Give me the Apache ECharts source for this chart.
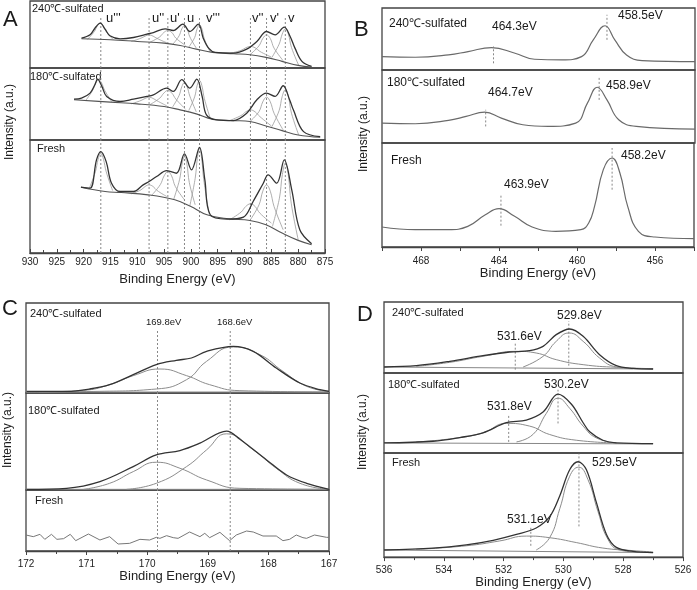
<!DOCTYPE html>
<html>
<head>
<meta charset="utf-8">
<script src="https://cdn.jsdelivr.net/npm/echarts@6/dist/echarts.min.js"></script>
<style>html,body{margin:0;padding:0;background:#fff}#chart{width:697px;height:590px}</style>
</head>
<body>
<div id="chart"></div>
<script>
// ---------- A: Ce 3d ----------
const ceLines = [916.8, 907.8, 904.3, 901.2, 898.4, 888.9, 885.9, 882.4];
const ceNames = ["u'''", "u''", "u'", "u", "v'''", "v''", "v'", "v"];

const ce240Env = [[920.4,90],[918.8,100],[917.9,120],[916.9,135],[916.0,117],[915.1,97],[913.2,88],[910.7,92],[908.2,102],[907.0,107],[904.8,118],[903.3,113],[901.5,132],[900.2,110],[898.6,132],[897.7,90],[896.7,60],[895.5,47],[892.1,45],[889.6,57],[887.7,80],[885.9,110],[884.3,100],[882.6,123],[881.5,95],[880.6,60],[879.3,20],[877.5,5]];
const ce240Base = [[920.4,88],[915,85],[910,80],[905,75],[902,68],[899,57],[896,47],[892,43],[889,40],[886,32],[883,20],[880,8],[877.5,3]];
const ce240Parts = [
  [[919.3,86],[918.0,110],[917.45,127],[916.9,135],[916.35,127],[915.8,110],[914.5,86]],
  [[911.1,80],[909.3,90],[908.55,96],[907.8,100],[907.05,96],[906.3,89],[904.5,76]],
  [[907.6,78],[905.8,94],[905.05,107],[904.3,113],[903.55,107],[902.8,90],[901.0,68]],
  [[903.4,71],[902.2,97],[901.7,118],[901.2,128],[900.7,118],[900.2,94],[899.0,60]],
  [[900.4,63],[899.3,92],[898.85,118],[898.4,130],[897.95,118],[897.5,88],[896.4,48]],
  [[892.8,44],[890.65,53],[889.78,61],[888.9,65],[888.03,61],[887.15,50],[885.0,33]],
  [[889.0,40],[887.3,67],[886.6,89],[885.9,100],[885.2,89],[884.5,60],[882.8,22]],
  [[884.9,32],[883.55,72],[882.98,102],[882.4,118],[881.83,102],[881.25,62],[879.9,8]]
];

const ce180Env = [[921.8,122],[920.4,125],[918.8,140],[917.9,165],[917.4,182],[916.6,160],[915.7,130],[913.2,115],[910.7,122],[908.2,130],[907.0,135],[904.5,155],[903.3,145],[901.7,180],[900.2,155],[898.9,182],[897.9,130],[897.1,75],[895.2,60],[892.1,58],[889.6,80],[887.7,120],[885.9,140],[884.3,130],[882.8,162],[881.6,120],[880.9,90],[879.0,25],[875.9,10]];
const ce180Base = [[921.8,120],[915,113],[910,108],[905,100],[902,90],[899,78],[896,62],[892,58],[889,55],[886,42],[883,28],[880,15],[875.9,8]];
const ce180Parts = [
  [[919.6,118],[918.3,149],[917.75,170],[917.2,180],[916.65,170],[916.1,149],[914.8,115]],
  [[911.1,108],[909.3,118],[908.55,124],[907.8,128],[907.05,124],[906.3,117],[904.5,102]],
  [[907.6,106],[905.8,125],[905.05,140],[904.3,148],[903.55,140],[902.8,122],[901.0,92]],
  [[903.4,99],[902.2,133],[901.7,159],[901.2,172],[900.7,159],[900.2,131],[899.0,84]],
  [[900.4,88],[899.3,129],[898.85,162],[898.4,178],[897.95,162],[897.5,124],[896.4,65]],
  [[892.8,58],[890.65,73],[889.78,84],[888.9,90],[888.03,84],[887.15,70],[885.0,42]],
  [[889.0,55],[887.3,85],[886.6,114],[885.9,128],[885.2,114],[884.5,80],[882.8,30]],
  [[884.9,40],[883.55,88],[882.98,130],[882.4,150],[881.83,130],[881.25,80],[879.9,15]]
];

const ceFreshEnv = [[920.5,198],[918.8,195],[917.6,280],[916.8,305],[915.8,275],[914.8,210],[913.2,185],[910.7,185],[908.9,205],[907.8,215],[906.4,230],[904.5,248],[902.7,240],[901.2,298],[899.9,250],[898.4,318],[897.4,220],[896.4,115],[893.3,102],[890.2,108],[888.4,155],[886.5,210],[885.6,235],[884.0,210],[882.6,280],[881.2,190],[879.7,70],[877.5,28]];
const ceFreshBase = [[920.5,198],[916,185],[913,182],[908,175],[903,160],[900,140],[897,115],[893,103],[889,98],[886,85],[883,60],[880,38],[877.5,25]];
const ceFreshParts = [
  [[919.0,192],[917.8,245],[917.3,282],[916.8,300],[916.3,282],[915.8,245],[914.6,188]],
  [[911.1,178],[909.3,190],[908.55,200],[907.8,205],[907.05,200],[906.3,188],[904.5,170]],
  [[907.4,172],[905.7,206],[905.0,232],[904.3,245],[903.6,232],[902.9,200],[901.2,160]],
  [[903.2,162],[902.1,222],[901.65,268],[901.2,290],[900.75,268],[900.3,212],[899.2,145]],
  [[900.2,142],[899.2,225],[898.8,285],[898.4,315],[898.0,285],[897.6,220],[896.6,118]],
  [[892.8,100],[890.65,123],[889.78,140],[888.9,148],[888.03,140],[887.15,120],[885.0,90]],
  [[889.0,98],[887.3,145],[886.6,186],[885.9,205],[885.2,186],[884.5,140],[882.8,70]],
  [[884.8,80],[883.5,165],[882.95,236],[882.4,270],[881.85,236],[881.3,150],[880.0,40]]
];

// ---------- B: Ti 2p ----------
const ti240 = [[470.0,40],[468.3,38],[466.6,45],[465.6,55],[464.4,67],[463.2,50],[462.2,32],[460.8,30],[459.8,40],[459.2,90],[458.6,132],[458.1,90],[457.5,45],[456.7,28],[454.0,25]];
const ti180 = [[470.0,60],[468.3,58],[466.6,68],[465.7,80],[464.75,93],[463.9,75],[462.8,55],[461.5,50],[460.1,60],[459.5,120],[459.0,168],[458.5,130],[457.9,70],[457.0,50],[454.0,42]];
const tiFresh = [[470.0,60],[468.3,52],[466.6,52],[465.6,62],[464.7,97],[464.0,115],[463.2,92],[462.3,60],[461.1,47],[459.8,52],[459.4,72],[459.1,122],[458.65,232],[458.2,267],[457.8,222],[457.4,122],[456.85,47],[456.0,30],[454.0,25]];
const tiMarks240 = [[464.3,20,70],[458.5,90,165]];
const tiMarks180 = [[464.7,50,100],[458.9,130,202]];
const tiMarksFresh = [[463.9,64,157],[458.2,172,297]];

// ---------- C: S 2p ----------
const s240Env = [[171.99,5],[171.33,5],[170.95,12],[170.62,25],[170.23,55],[169.85,85],[169.52,98],[169.27,105],[169.02,125],[168.58,140],[168.25,125],[167.87,75],[167.48,30],[167.15,10],[167.0,5]];
const s240P1 = [[171.78,3],[171.05,8],[170.62,25],[170.23,52],[169.79,72],[169.35,52],[168.97,25],[168.47,7],[167.0,3]];
const s240P2 = [[171.99,3],[170.78,5],[169.85,12],[169.35,40],[169.02,95],[168.58,138],[168.14,115],[167.76,65],[167.37,20],[167.0,5]];
const s180Env = [[171.99,2],[171.33,5],[170.78,25],[170.23,70],[169.85,105],[169.46,118],[169.13,140],[168.69,176],[168.47,152],[168.03,90],[167.70,45],[167.37,20],[167.0,2]];
const s180P1 = [[171.05,2],[170.62,20],[170.23,55],[169.85,83],[169.46,65],[169.02,30],[168.47,5],[167.0,2]];
const s180P2 = [[170.34,2],[169.85,20],[169.35,70],[169.02,120],[168.69,168],[168.25,120],[167.87,65],[167.48,20],[167.0,2]];
const sFresh = [[172.00,48],[171.88,43],[171.77,50],[171.69,35],[171.58,50],[171.49,35],[171.38,37],[171.27,50],[171.18,31],[170.97,51],[170.78,33],[170.62,43],[170.48,21],[170.29,23],[170.12,35],[169.96,33],[169.85,41],[169.79,38],[169.68,46],[169.57,40],[169.49,38],[169.30,57],[169.13,43],[169.05,53],[168.97,40],[168.80,56],[168.64,31],[168.53,48],[168.36,60],[168.25,57],[168.09,45],[167.87,45],[167.76,31],[167.65,35],[167.54,48],[167.43,40],[167.37,38],[167.24,48],[167.04,41],[167.00,41]];
const sPeaks = [169.83, 168.63];

// ---------- D: O 1s ----------
const o240Env = [[536.0,18],[534.92,22],[533.80,35],[532.69,52],[531.80,63],[531.13,67],[530.68,80],[530.24,115],[529.79,132],[529.34,110],[528.79,55],[528.23,22],[527.67,14],[527.0,12]];
const o240P1 = [[531.35,18],[530.68,50],[530.24,95],[529.81,120],[529.34,95],[528.79,45],[528.23,18],[527.67,13]];
const o240P2 = [[534.92,20],[533.80,32],[532.69,50],[531.57,65],[530.91,60],[530.24,40],[529.34,25],[528.23,17],[527.0,13]];
const o240Base = [[536.0,18],[527.0,12]];
const o180Env = [[536.0,30],[534.36,35],[533.47,46],[532.69,60],[531.91,90],[531.24,98],[530.68,122],[530.18,175],[529.73,145],[529.34,90],[529.12,63],[528.68,38],[528.23,30],[527.0,28]];
const o180P1 = [[531.57,33],[531.02,55],[530.57,118],[530.18,163],[529.79,133],[529.34,80],[528.90,45],[528.23,30]];
const o180P2 = [[534.92,33],[533.80,42],[532.69,60],[531.91,88],[531.13,80],[530.46,55],[529.57,38],[528.23,30]];
const o180Base = [[536.0,30],[527.0,27]];
const oFreshEnv = [[536.0,22],[534.36,28],[533.25,38],[532.35,52],[531.57,70],[530.91,90],[530.46,125],[530.12,190],[529.79,270],[529.51,295],[529.23,270],[528.90,170],[528.56,70],[528.23,30],[527.67,18],[527.0,14]];
const oFreshP1 = [[530.91,22],[530.46,60],[530.12,150],[529.79,250],[529.49,278],[529.18,240],[528.84,140],[528.51,55],[528.12,22],[527.45,15]];
const oFreshP2 = [[534.92,24],[533.25,35],[532.13,50],[531.24,65],[530.46,60],[529.57,45],[528.68,28],[527.67,20],[527.0,16]];
const oFreshBase = [[536.0,22],[527.0,14]];
const oMarks240 = [[531.61,10,90],[529.82,22,155]];
const oMarks180 = [[531.83,33,113],[530.18,88,188]];
const oMarksFresh = [[531.09,35,95],[529.48,95,320]];

const FONT = 'Liberation Sans, Arial, sans-serif';
const grids = [], xAxes = [], yAxes = [], series = [], texts = [];

// one framed strip; only the bottom one of a panel carries the energy axis
function strip(left, width, top, height, ymax, ax) {
  const i = grids.length;
  grids.push({ left, width, top, height, show: true, borderColor: '#444', borderWidth: 1.3, containLabel: false });
  const x = { type: 'value', gridIndex: i, inverse: true, min: ax.min, max: ax.max, interval: ax.interval, splitLine: { show: false } };
  if (ax.bottom) {
    Object.assign(x, {
      axisLine: { lineStyle: { color: '#444', width: 1.3 } },
      axisTick: { inside: ax.inside, length: 4, lineStyle: { color: '#444' } },
      minorTick: { show: ax.minor, splitNumber: 2, length: 3, lineStyle: { color: '#444' } },
      axisLabel: { fontSize: 10, color: '#222', margin: ax.margin, fontFamily: FONT, formatter: ax.fmt || '{value}', showMinLabel: true, showMaxLabel: true },
      name: 'Binding Energy (eV)', nameLocation: 'middle', nameGap: ax.gap,
      nameTextStyle: { fontSize: 13, color: '#222', fontFamily: FONT }
    });
  } else {
    x.show = false;
  }
  xAxes.push(x);
  yAxes.push({ type: 'value', gridIndex: i, min: 0, max: ymax, show: false });
  return i;
}

function curve(g, data, color, width, smooth) {
  series.push({ type: 'line', xAxisIndex: g, yAxisIndex: g, data, symbol: 'none', smooth: smooth == null ? 0.35 : smooth,
    lineStyle: { color, width }, silent: true, z: color === '#333' ? 4 : 3 });
}
function vmark(g, e, a, b) {
  series.push({ type: 'line', xAxisIndex: g, yAxisIndex: g, data: [[e, a], [e, b]], symbol: 'none',
    lineStyle: { color: '#888', width: 1, type: [2, 2] }, silent: true, z: 2 });
}
function txt(x, y, s, size) {
  texts.push({ type: 'text', x, y, silent: true, style: { text: s, fontSize: size, fontFamily: FONT, fill: '#1a1a1a', verticalAlign: 'middle' } });
}

// ---- panel A
const axA = { min: 875, max: 930, interval: 5, inside: true, minor: true, margin: 4, gap: 20 };
const a1 = strip(30, 295, 1, 67, 202, axA);
const a2 = strip(30, 295, 68, 72, 215, axA);
const a3 = strip(30, 295, 140, 113, 340, Object.assign({ bottom: true }, axA));
[[a1, ce240Env, ce240Base, ce240Parts, 152], [a2, ce180Env, ce180Base, ce180Parts, 215], [a3, ceFreshEnv, ceFreshBase, ceFreshParts, 340]]
  .forEach(([g, env, base, parts, top]) => {
    ceLines.forEach(e => vmark(g, e, 0, top));
    parts.forEach(p => curve(g, p, '#9a9a9a', 0.8, 0.4));
    curve(g, base, '#555', 1.1, 0.4);
    curve(g, env, '#333', 1.3);
  });
const ceLabelX = [106, 152, 170, 187, 206, 252, 270, 288];
ceNames.forEach((n, k) => txt(ceLabelX[k], 18, n, 13));

// ---- panel B
const axB = { min: 454, max: 470, interval: 2, inside: false, minor: false, margin: 9, gap: 20,
  fmt: v => (v % 4 === 0 ? String(v) : '') };
const b1 = strip(382, 313, 8, 62, 185, axB);
const b2 = strip(382, 313, 70, 73, 220, axB);
const b3 = strip(382, 313, 143, 104, 312, Object.assign({ bottom: true }, axB));
[[b1, ti240, tiMarks240], [b2, ti180, tiMarks180], [b3, tiFresh, tiMarksFresh]].forEach(([g, d, m]) => {
  m.forEach(([e, a, b]) => vmark(g, e, a, b));
  curve(g, d, '#6a6a6a', 1.2, 0.45);
});

// ---- panel C
const axC = { min: 167, max: 172, interval: 1, inside: false, minor: true, margin: 8, gap: 19 };
const c1 = strip(26, 303, 303, 90, 270, axC);
const c2 = strip(26, 303, 393, 97, 290, axC);
const c3 = strip(26, 303, 490, 61, 183, Object.assign({ bottom: true }, axC));
sPeaks.forEach(e => { vmark(c1, e, 0, 190); vmark(c2, e, 0, 290); vmark(c3, e, 0, 183); });
curve(c1, [[172, 3], [167, 3]], '#888', 1, 0);
curve(c1, s240P1, '#8c8c8c', 1, 0.5);
curve(c1, s240P2, '#8c8c8c', 1, 0.5);
curve(c1, s240Env, '#333', 1.3);
curve(c2, [[172, 2], [167, 2]], '#888', 1, 0);
curve(c2, s180P1, '#8c8c8c', 1, 0.5);
curve(c2, s180P2, '#8c8c8c', 1, 0.5);
curve(c2, s180Env, '#333', 1.3);
curve(c3, sFresh, '#777', 1, 0);

// ---- panel D
const axD = { min: 526, max: 536, interval: 2, inside: false, minor: true, margin: 8, gap: 16 };
const d1 = strip(384, 299, 302, 71, 213, axD);
const d2 = strip(384, 299, 373, 80, 238, axD);
const d3 = strip(384, 299, 453, 107, 322, Object.assign({ bottom: true }, axD));
[[d1, o240Env, o240P1, o240P2, o240Base, oMarks240], [d2, o180Env, o180P1, o180P2, o180Base, oMarks180],
 [d3, oFreshEnv, oFreshP1, oFreshP2, oFreshBase, oMarksFresh]].forEach(([g, env, p1, p2, base, m]) => {
  m.forEach(([e, a, b]) => vmark(g, e, a, b));
  curve(g, base, '#888', 1, 0);
  curve(g, p1, '#8c8c8c', 1, 0.5);
  curve(g, p2, '#8c8c8c', 1, 0.5);
  curve(g, env, '#333', 1.3);
});

// ---- texts
txt(3, 20, 'A', 22); txt(354, 30, 'B', 22); txt(2, 309, 'C', 22); txt(357, 315, 'D', 22);
txt(32, 9, '240℃-sulfated', 11); txt(30, 77, '180℃-sulfated', 11); txt(37, 149, 'Fresh', 11);
txt(389, 24, '240℃-sulfated', 12); txt(387, 83, '180℃-sulfated', 12); txt(391, 161, 'Fresh', 12);
txt(30, 314, '240℃-sulfated', 11); txt(28, 411, '180℃-sulfated', 11); txt(35, 501, 'Fresh', 11);
txt(392, 313, '240℃-sulfated', 11); txt(388, 385, '180℃-sulfated', 11); txt(392, 463, 'Fresh', 11);
txt(492, 27, '464.3eV', 12); txt(618, 16, '458.5eV', 12);
txt(488, 93, '464.7eV', 12); txt(606, 86, '458.9eV', 12);
txt(504, 185, '463.9eV', 12); txt(621, 156, '458.2eV', 12);
txt(146, 322, '169.8eV', 9.5); txt(217, 322, '168.6eV', 9.5);
txt(497, 337, '531.6eV', 12); txt(557, 316, '529.8eV', 12);
txt(487, 407, '531.8eV', 12); txt(544, 385, '530.2eV', 12);
txt(507, 520, '531.1eV', 12); txt(592, 463, '529.5eV', 12);
[[10, 122], [364, 134], [8, 430], [363, 432]].forEach(([x, y]) => {
  texts.push({ type: 'text', x, y, rotation: Math.PI / 2, silent: true,
    style: { text: 'Intensity (a.u.)', fontSize: 12, fontFamily: FONT, fill: '#1a1a1a', align: 'center', verticalAlign: 'middle' } });
});

const chart = echarts.init(document.getElementById('chart'));
chart.setOption({
  animation: false,
  backgroundColor: '#fff',
  textStyle: { fontFamily: FONT },
  grid: grids, xAxis: xAxes, yAxis: yAxes, series,
  graphic: texts
});
</script>
</body>
</html>
